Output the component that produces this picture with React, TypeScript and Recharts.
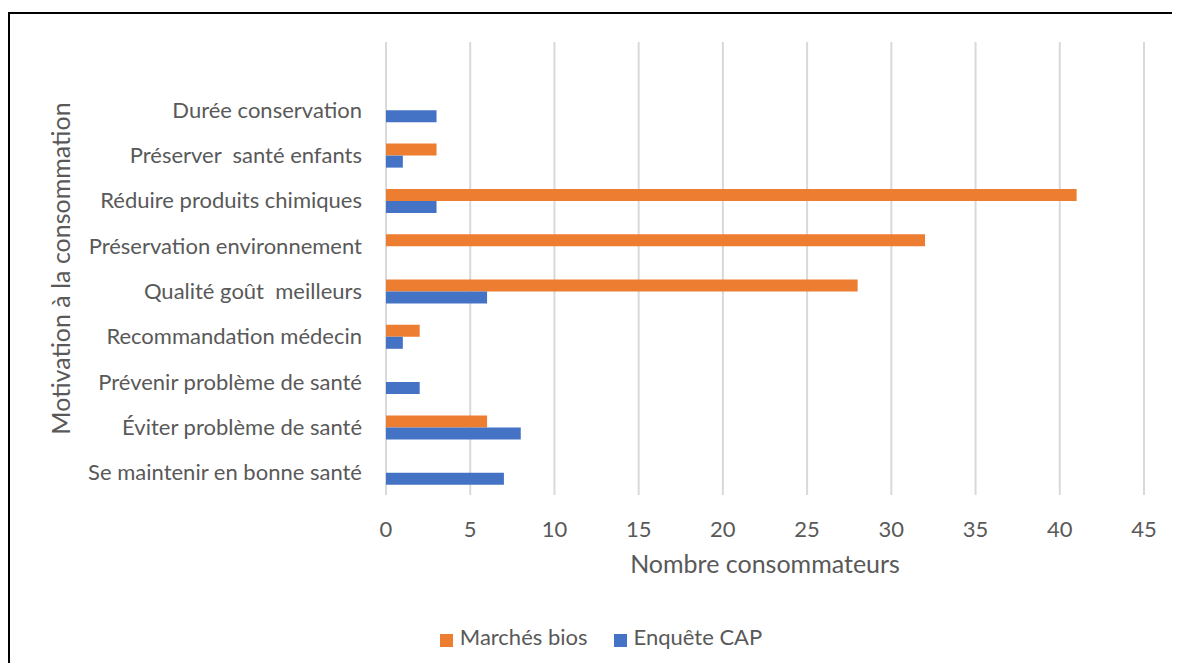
import React, { useEffect } from 'react';
import { BarChart, Bar, XAxis, YAxis, CartesianGrid, Legend } from 'recharts';

// motivations, top to bottom (the first row is left blank, as in the original)
const motivations = [
    '',
    'Durée conservation',
    'Préserver\u00a0 santé enfants',
    'Réduire produits chimiques',
    'Préservation environnement',
    'Qualité goût\u00a0 meilleurs',
    'Recommandation médecin',
    'Prévenir problème de santé',
    'Éviter problème de santé',
    'Se maintenir en bonne santé',
];
const marchesBios = [null, 0, 3, 41, 32, 28, 2, 0, 6, 0];
const enqueteCap = [null, 3, 1, 3, 0, 6, 1, 2, 8, 7];
const xTicks = [0, 5, 10, 15, 20, 25, 30, 35, 40, 45];
const legendOrder = ['Marchés bios', 'Enquête CAP'];

const data = motivations.map((m, i) => ({
    motivation: m,
    marches: marchesBios[i],
    enquete: enqueteCap[i],
}));

const FONT = 'Lato, "Open Sans", sans-serif';
const TEXT = '#595959';

function YTitle({ viewBox }: any) {
    const cy = viewBox.y + viewBox.height / 2;
    return (
        <text
            x={50}
            y={cy}
            transform={`rotate(-90, 50, ${cy})`}
            textAnchor="middle"
            dominantBaseline="central"
            fill={TEXT}
            fontSize={25}
            fontFamily={FONT}
        >
            Motivation à la consommation
        </text>
    );
}

export default function App() {
    // the frame runs off the right edge; keep the page from scrolling
    useEffect(() => {
        document.documentElement.style.overflow = 'hidden';
    }, []);

    return (
        <div
            style={{
                boxSizing: 'border-box',
                marginTop: 4,
                width: 1172,
                height: 651,
                overflow: 'hidden',
                borderLeft: '2px solid #000',
                borderTop: '2px solid #000',
                background: '#fff',
            }}
        >
            <BarChart
                width={1170}
                height={649}
                data={data}
                layout="vertical"
                barGap={0}
                margin={{ top: 28, right: 36, bottom: 13, left: 0 }}
                style={{ fontFamily: FONT }}
            >
                <CartesianGrid horizontal={false} stroke="#d9d9d9" strokeWidth={2} />
                <XAxis
                    type="number"
                    domain={[0, 45]}
                    ticks={xTicks}
                    axisLine={false}
                    tickLine={false}
                    tickSize={0}
                    tickMargin={26}
                    height={128}
                    tick={{ fill: TEXT, fontSize: 22, fontFamily: FONT }}
                    label={{ value: 'Nombre consommateurs', position: 'insideBottom', offset: 50, fill: TEXT, fontSize: 25, fontFamily: FONT }}
                />
                <YAxis
                    type="category"
                    dataKey="motivation"
                    width={376}
                    axisLine={false}
                    tickLine={false}
                    tickSize={0}
                    tickMargin={24}
                    interval={0}
                    tick={{ fill: TEXT, fontSize: 22, fontFamily: FONT }}
                    label={<YTitle />}
                />
                <Legend
                    verticalAlign="bottom"
                    iconType="square"
                    iconSize={13}
                    wrapperStyle={{ left: 37 }}
                    itemSorter={(item: any) => legendOrder.indexOf(item.value)}
                    formatter={(value: string) => (
                        <span style={{ color: TEXT, fontSize: 22, fontFamily: FONT, marginLeft: 3, marginRight: 16 }}>{value}</span>
                    )}
                />
                <Bar dataKey="marches" name="Marchés bios" fill="#ED7D31" barSize={12} isAnimationActive={false} />
                <Bar dataKey="enquete" name="Enquête CAP" fill="#4472C4" barSize={12} isAnimationActive={false} />
            </BarChart>
        </div>
    );
}
